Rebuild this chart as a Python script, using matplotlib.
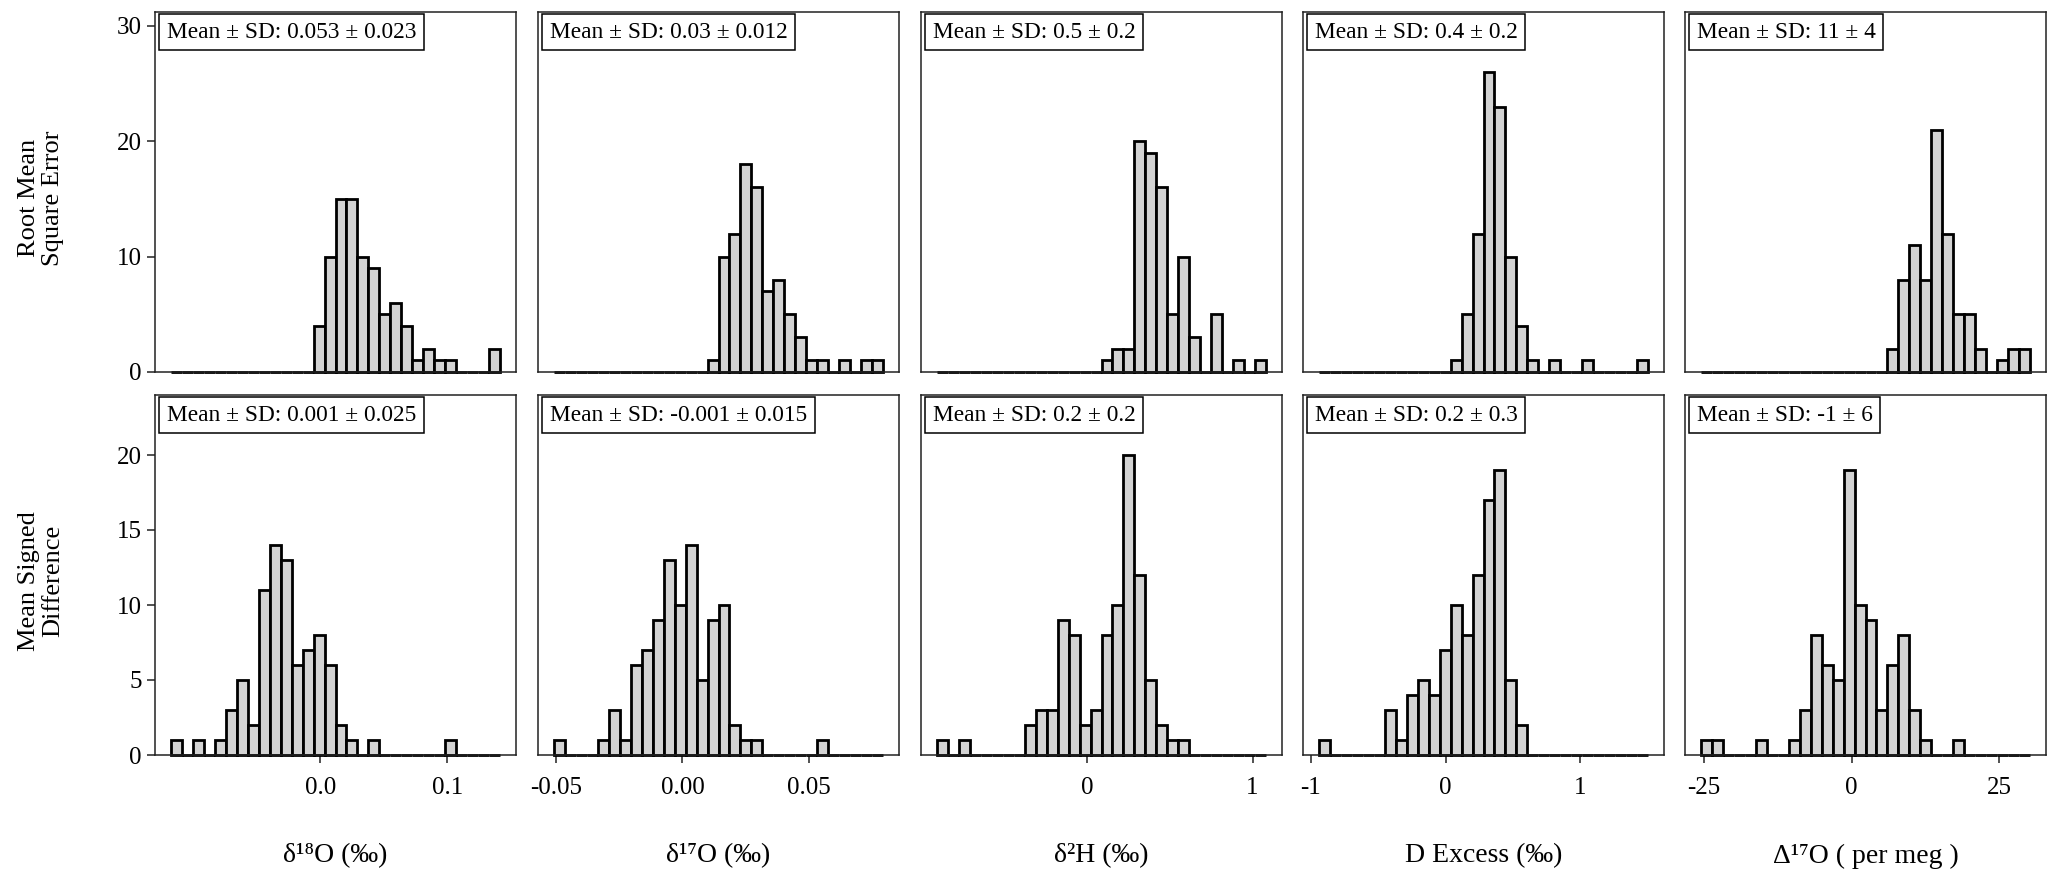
import matplotlib
matplotlib.use("Agg")
import matplotlib.pyplot as plt
import numpy as np

plt.rcParams['font.family'] = ['Liberation Serif', 'DejaVu Serif']

# ---------------- data ----------------
col_titles = ["δ¹⁸O (‰)", "δ¹⁷O (‰)", "δ²H (‰)", "D Excess (‰)", "Δ¹⁷O ( per meg )"]
row_titles = ["Root Mean\nSquare Error", "Mean Signed\nDifference"]
rmse_stats = ["0.053 ± 0.023", "0.03 ± 0.012", "0.5 ± 0.2", "0.4 ± 0.2", "11 ± 4"]
msd_stats = ["0.001 ± 0.025", "-0.001 ± 0.015", "0.2 ± 0.2", "0.2 ± 0.3", "-1 ± 6"]

# histogram bin range per column (30 bins)
bin_lo = [-0.117, -0.0505, -0.906, -0.937, -25.4]
bin_hi = [0.141, 0.079, 1.079, 1.50, 30.1]

x_ticks = [[0.0, 0.1], [-0.05, 0.0, 0.05], [0, 1], [-1, 0, 1], [-25, 0, 25]]
x_ticklabels = [["0.0", "0.1"], ["-0.05", "0.00", "0.05"], ["0", "1"], ["-1", "0", "1"], ["-25", "0", "25"]]
y_ticks_top = [0, 10, 20, 30]
y_ticks_bottom = [0, 5, 10, 15, 20]

def counts(d):
    c = [0] * 30
    for k, v in d.items():
        c[k] = v
    return c

rmse_d18o = counts({13: 4, 14: 10, 15: 15, 16: 15, 17: 10, 18: 9, 19: 5, 20: 6, 21: 4, 22: 1, 23: 2, 24: 1, 25: 1, 29: 2})
rmse_d17o = counts({14: 1, 15: 10, 16: 12, 17: 18, 18: 16, 19: 7, 20: 8, 21: 5, 22: 3, 23: 1, 24: 1, 26: 1, 28: 1, 29: 1})
rmse_d2h = counts({15: 1, 16: 2, 17: 2, 18: 20, 19: 19, 20: 16, 21: 5, 22: 10, 23: 3, 25: 5, 27: 1, 29: 1})
rmse_dex = counts({12: 1, 13: 5, 14: 12, 15: 26, 16: 23, 17: 10, 18: 4, 19: 1, 21: 1, 24: 1, 29: 1})
rmse_d17ex = counts({17: 2, 18: 8, 19: 11, 20: 8, 21: 21, 22: 12, 23: 5, 24: 5, 25: 2, 27: 1, 28: 2, 29: 2})

msd_d18o = counts({0: 1, 2: 1, 4: 1, 5: 3, 6: 5, 7: 2, 8: 11, 9: 14, 10: 13, 11: 6, 12: 7, 13: 8, 14: 6, 15: 2, 16: 1, 18: 1, 25: 1})
msd_d17o = counts({0: 1, 4: 1, 5: 3, 6: 1, 7: 6, 8: 7, 9: 9, 10: 13, 11: 10, 12: 14, 13: 5, 14: 9, 15: 10, 16: 2, 17: 1, 18: 1, 24: 1})
msd_d2h = counts({0: 1, 2: 1, 8: 2, 9: 3, 10: 3, 11: 9, 12: 8, 13: 2, 14: 3, 15: 8, 16: 10, 17: 20, 18: 12, 19: 5, 20: 2, 21: 1, 22: 1})
msd_dex = counts({0: 1, 6: 3, 7: 1, 8: 4, 9: 5, 10: 4, 11: 7, 12: 10, 13: 8, 14: 12, 15: 17, 16: 19, 17: 5, 18: 2})
msd_d17ex = counts({0: 1, 1: 1, 5: 1, 8: 1, 9: 3, 10: 8, 11: 6, 12: 5, 13: 19, 14: 10, 15: 9, 16: 3, 17: 6, 18: 8, 19: 3, 20: 1, 23: 1})

rmse_counts = [rmse_d18o, rmse_d17o, rmse_d2h, rmse_dex, rmse_d17ex]
msd_counts = [msd_d18o, msd_d17o, msd_d2h, msd_dex, msd_d17ex]

# ---------------- figure ----------------
W, H = 2067, 876
fig = plt.figure(figsize=(W / 100, H / 100), dpi=100)

panel_left = [155, 538, 921, 1303, 1685]
panel_w = 361
row_top = [12, 395]
panel_h = 360

bar_fc = "#D3D3D3"
rows = [(rmse_counts, rmse_stats, y_ticks_top), (msd_counts, msd_stats, y_ticks_bottom)]

for r, (cnts, stats, yt) in enumerate(rows):
    ymax = max(max(c) for c in cnts) * 1.2
    for c in range(5):
        l = panel_left[c] / W
        b = 1 - (row_top[r] + panel_h) / H
        ax = fig.add_axes([l, b, panel_w / W, panel_h / H])
        edges = np.linspace(bin_lo[c], bin_hi[c], 31)
        wdt = edges[1] - edges[0]
        ax.bar(edges[:-1], cnts[c], width=wdt, align='edge', color=bar_fc,
               edgecolor='black', linewidth=2.0, clip_on=False, zorder=2)
        span = bin_hi[c] - bin_lo[c]
        ax.set_xlim(bin_lo[c] - 0.05 * span, bin_hi[c] + 0.05 * span)
        ax.set_ylim(0, ymax)
        for s in ax.spines.values():
            s.set_linewidth(1.1)
            s.set_color('#222222')
            s.set_zorder(3)
        ax.tick_params(direction='out', length=6, width=1.1, labelsize=18, color='#222222')
        if c == 0:
            ax.set_yticks(yt)
            ax.set_yticklabels([str(v) for v in yt])
        else:
            ax.set_yticks([])
        if r == 1:
            ax.set_xticks(x_ticks[c])
            ax.set_xticklabels(x_ticklabels[c])
            ax.tick_params(axis='x', pad=10)
        else:
            ax.set_xticks([])
        ax.annotate("Mean ± SD: " + stats[c], xy=(0, 1), xycoords='axes fraction',
                    xytext=(8.5, -7), textcoords='offset points', ha='left', va='top',
                    fontsize=16.8, zorder=5,
                    bbox=dict(boxstyle='square,pad=0.33', fc='white', ec='black', lw=1.1))
        if c == 0:
            fig.text(41 / W, 1 - (row_top[r] + panel_h / 2 + 6) / H, row_titles[r],
                     rotation=90, ha='center', va='center', fontsize=19, linespacing=1.1)
        if r == 1:
            fig.text((panel_left[c] + panel_w / 2) / W, 1 - 856 / H, col_titles[c],
                     ha='center', va='center', fontsize=20)

fig.savefig("out.png", dpi=100)
